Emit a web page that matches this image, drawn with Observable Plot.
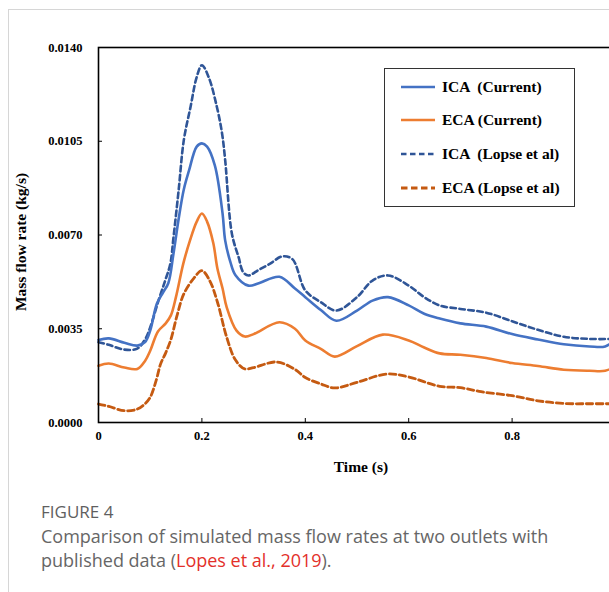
<!DOCTYPE html>
<html><head><meta charset="utf-8">
<script src="https://cdn.jsdelivr.net/npm/d3@7"></script>
<script src="https://cdn.jsdelivr.net/npm/@observablehq/plot@0.6"></script>
<style>
html,body{margin:0;padding:0;background:#fff;overflow:hidden;width:609px;height:592px;}
#card{position:absolute;left:8px;top:9px;width:800px;height:800px;border-left:1.5px solid #d6d6d6;border-top:1.5px solid #d6d6d6;}
#chart{position:absolute;left:0;top:0;width:640px;height:480px;}
#chart svg{max-width:none !important;width:640px !important;height:480px !important;}
.serif{font-family:"Liberation Serif","Times New Roman",serif;font-weight:bold;color:#000;position:absolute;white-space:nowrap;}
#ytitle{left:21px;top:242px;font-size:15.5px;transform:translate(-50%,-50%) rotate(-90deg);}
#xtitle{left:361px;top:467px;font-size:15.5px;transform:translate(-50%,-50%);}
#legend{position:absolute;left:0;top:0;}
#caption{position:absolute;left:41px;top:500px;font-family:"Open Sans","Noto Sans",sans-serif;color:#666;}
#fig{font-size:17px;line-height:24px;color:#5f5f5f;}
#ctext{font-size:18px;line-height:24px;}
#ctext span{color:#e3302a;}
</style></head>
<body>
<div id="card"></div>
<div id="chart"></div>
<div id="ytitle" class="serif">Mass flow rate (kg/s)</div>
<div id="xtitle" class="serif">Time (s)</div>
<svg id="legend" width="609" height="240"></svg>
<div id="caption"><div id="fig">FIGURE 4</div><div id="ctext">Comparison of simulated mass flow rates at two outlets with<br>published data (<span>Lopes et al., 2019</span>).</div></div>
<script>
// ICA (Current)
const icaCurT = [0, .02, .05, .075, .09, .1, .113, .125, .135, .145, .155, .165, .175, .19, .2, .21, .225, .24, .245, .255, .265, .29, .31, .35, .38, .4, .43, .46, .5, .53, .56, .6, .63, .66, .7, .75, .8, .85, .9, .95, .98, 1.0];
const icaCurV = [.00308, .00314, .00298, .00287, .0030, .00343, .00444, .00486, .0052, .0063, .0076, .0087, .0094, .0103, .01042, .0103, .0096, .0078, .0068, .0060, .0055, .00511, .0052, .00544, .0050, .00468, .0042, .0038, .00418, .00455, .00468, .00437, .00406, .00388, .0037, .00358, .0033, .0031, .00292, .00284, .00284, .0031];
// ECA (Current)
const ecaCurT = [0, .02, .05, .075, .09, .1, .115, .13, .14, .15, .164, .177, .19, .2, .21, .222, .23, .24, .248, .267, .283, .3, .35, .38, .4, .43, .457, .5, .55, .6, .63, .66, .7, .75, .8, .85, .9, .95, .98, 1.0];
const ecaCurV = [.00212, .0022, .00205, .0020, .0023, .00268, .0034, .0037, .0040, .0047, .00593, .0068, .0075, .0078, .0075, .0067, .00575, .0050, .0043, .00343, .00321, .0033, .00374, .0035, .00306, .00275, .00246, .00285, .00328, .00306, .0028, .00258, .00253, .00241, .00222, .00211, .00197, .00193, .00193, .0021];
// ICA (Lopse et al)
const icaLopT = [0, .02, .05, .075, .09, .1, .116, .129, .139, .145, .155, .165, .178, .19, .2, .213, .229, .239, .245, .258, .271, .28, .29, .31, .332, .355, .375, .4, .43, .46, .5, .53, .56, .6, .63, .66, .7, .75, .8, .85, .9, .95, 1.0];
const icaLopV = [.00300, .0029, .00272, .00276, .0031, .00355, .00455, .0053, .00593, .0069, .00867, .01054, .01178, .0129, .01334, .0129, .01178, .01079, .0098, .00705, .00617, .00561, .00549, .0057, .00593, .0062, .0061, .00493, .00449, .00418, .00468, .0053, .00549, .00511, .00468, .00437, .00424, .0041, .00378, .00346, .0032, .00312, .00312];
// ECA (Lopse et al)
const ecaLopT = [0, .02, .05, .075, .09, .1, .112, .12, .13, .14, .152, .165, .185, .2, .215, .23, .248, .265, .283, .3, .345, .38, .4, .43, .457, .5, .558, .6, .66, .7, .74, .8, .85, .9, .95, 1.0];
const ecaLopV = [.00069, .0006, .00044, .0005, .0007, .00094, .0016, .00218, .0026, .0031, .0040, .0048, .0054, .00567, .0053, .0045, .00318, .00233, .0020, .00205, .00226, .00198, .00168, .00144, .00129, .0015, .00181, .0017, .00135, .0013, .00115, .001, .00081, .00071, .0007, .0007];

const xTicks = [0, 0.2, 0.4, 0.6, 0.8];
const yTicks = [0, 0.0035, 0.0070, 0.0105, 0.0140];
const legendLabels = ["ICA  (Current)", "ECA (Current)", "ICA  (Lopse et al)", "ECA (Lopse et al)"];

const toRows = (t, v) => t.map((d, i) => ({t: d, v: v[i]}));
const series = [
  {rows: toRows(icaCurT, icaCurV), stroke: "#4472C4", dash: null, w: 2.6},
  {rows: toRows(ecaCurT, ecaCurV), stroke: "#ED7D31", dash: null, w: 2.6},
  {rows: toRows(icaLopT, icaLopV), stroke: "#2F5597", dash: "5.5,3.5", w: 2.6},
  {rows: toRows(ecaLopT, ecaLopV), stroke: "#C55A11", dash: "6.5,3.5", w: 2.8}
];

const chart = Plot.plot({
  width: 640, height: 480,
  marginLeft: 98, marginRight: 25, marginTop: 47, marginBottom: 58,
  x: {domain: [0, 1]},
  y: {domain: [0, 0.014]},
  style: {fontFamily: '"Liberation Serif", "Times New Roman", serif', fontWeight: "bold", fontSize: "12.5px", color: "#000", background: "transparent", overflow: "visible", maxWidth: "none"},
  marks: [
    ...series.slice().reverse().map(s => Plot.line(s.rows, {x: "t", y: "v", stroke: s.stroke, strokeWidth: s.w, strokeDasharray: s.dash, curve: "catmull-rom"})),
    Plot.frame({stroke: "#000", strokeWidth: 1.6}),
    Plot.axisX({ticks: xTicks, tickFormat: d => d === 0 ? "0" : d3.format(".1f")(d), tickSize: -4, tickPadding: 13, label: null, fontSize: 12.5, fontWeight: "bold"}),
    Plot.axisY({ticks: yTicks, tickFormat: d3.format(".4f"), tickSize: -4, tickPadding: 20, label: null, fontSize: 12.5, fontWeight: "bold"})
  ]
});
document.getElementById("chart").appendChild(chart);

// legend
const lg = d3.select("#legend");
lg.append("rect").attr("x", 384.5).attr("y", 68.5).attr("width", 190).attr("height", 138).attr("fill", "#fff").attr("stroke", "#333").attr("stroke-width", 1);
const ys = [87, 120, 154, 188];
series.forEach((s, i) => {
  lg.append("line").attr("x1", 401).attr("x2", 435).attr("y1", ys[i]).attr("y2", ys[i])
    .attr("stroke", s.stroke).attr("stroke-width", s.w).attr("stroke-dasharray", s.dash);
  lg.append("text").attr("x", 442).attr("y", ys[i]).attr("dy", "0.35em")
    .attr("font-family", '"Liberation Serif", "Times New Roman", serif').attr("font-weight", "bold").attr("font-size", 15.5)
    .attr("xml:space", "preserve").style("white-space", "pre").text(legendLabels[i]);
});
</script>
</body></html>
